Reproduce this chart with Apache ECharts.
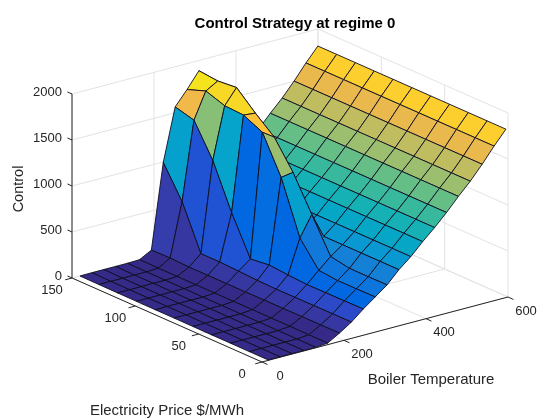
<!DOCTYPE html>
<html><head><meta charset="utf-8">
<style>html,body{margin:0;padding:0;background:#fff}#c{width:560px;height:420px}</style>
<script src="https://cdn.jsdelivr.net/npm/echarts@6/dist/echarts.min.js"></script>
</head><body><div id="c"></div>
<script>
// ---- data ----
const temperature = [15,44,73,102,131,160,189,218,247,276,305,334,363,392,421,450,479,508,537,566,595];
const price = [0,14.85,29.7,44.55,59.4,74.25,89.1,103.95,118.8,133.65,148.5];
const control = [
 [5,5,6,6,7,8,8,9,10,11,13],
 [5,5,6,6,7,8,9,9,10,11,15],
 [5,5,6,6,7,8,9,9,10,11,15],
 [5,5,6,7,7,8,9,10,11,11,15],
 [5,5,6,7,7,8,9,10,11,11,15],
 [17,17,18,18,18,18,18,18,18,18,20],
 [92,90,90,88,88,86,86,86,86,94,90],
 [177,177,176,175,173,178,188,197,197,672,1008],
 [285,283,281,280,293,311,286,698,1176,1524,1578],
 [382,380,379,400,660,1229,1630,1726,1737,1807,1733],
 [479,477,478,516,881,1250,1543,1713,1901,1882,1903],
 [610,610,610,610,610,610,610,610,610,610,610],
 [718,718,718,718,718,718,718,718,718,718,718],
 [847,847,847,847,847,847,847,847,847,847,847],
 [966,966,966,966,966,966,966,966,966,966,966],
 [1095,1095,1095,1095,1095,1095,1095,1095,1095,1095,1095],
 [1236,1236,1236,1236,1236,1236,1236,1236,1236,1236,1236],
 [1367,1367,1367,1367,1367,1367,1367,1367,1367,1367,1367],
 [1517,1517,1517,1517,1517,1517,1517,1517,1517,1517,1517],
 [1680,1680,1680,1680,1680,1680,1680,1680,1680,1680,1680],
 [1830,1830,1830,1830,1830,1830,1830,1830,1830,1830,1830]
];
const xTicks = [0,200,400,600];
const yTicks = [0,50,100,150];
const zTicks = [0,500,1000,1500,2000];
const titleText = 'Control Strategy at regime 0';
const xName = 'Boiler Temperature';
const yName = 'Electricity Price $/MWh';
const zName = 'Control';

// ---- MATLAB "parula" colormap ----
const parula = [[.2081,.1663,.5292],[.2116,.1898,.5777],[.2123,.2138,.6270],[.2081,.2386,.6771],[.1959,.2645,.7279],[.1707,.2919,.7792],[.1253,.3242,.8303],[.0591,.3598,.8683],[.0117,.3875,.8820],[.0060,.4086,.8828],[.0165,.4266,.8786],[.0329,.4430,.8720],[.0498,.4586,.8641],[.0629,.4737,.8554],[.0723,.4887,.8467],[.0779,.5040,.8384],[.0793,.5200,.8312],[.0749,.5375,.8263],[.0641,.5570,.8240],[.0488,.5772,.8228],[.0343,.5966,.8199],[.0265,.6137,.8135],[.0239,.6287,.8038],[.0231,.6418,.7913],[.0228,.6535,.7768],[.0267,.6642,.7607],[.0384,.6743,.7436],[.0590,.6838,.7254],[.0843,.6928,.7062],[.1133,.7015,.6859],[.1453,.7098,.6646],[.1801,.7177,.6424],[.2178,.7250,.6193],[.2586,.7317,.5954],[.3022,.7376,.5712],[.3482,.7424,.5473],[.3953,.7459,.5244],[.4420,.7481,.5033],[.4871,.7491,.4840],[.5300,.7491,.4661],[.5709,.7485,.4494],[.6099,.7473,.4337],[.6473,.7456,.4188],[.6834,.7435,.4044],[.7184,.7411,.3905],[.7525,.7384,.3768],[.7858,.7356,.3633],[.8185,.7327,.3498],[.8507,.7299,.3360],[.8824,.7274,.3217],[.9139,.7258,.3063],[.9450,.7261,.2886],[.9739,.7314,.2666],[.9938,.7455,.2403],[.9990,.7653,.2164],[.9955,.7861,.1967],[.9880,.8066,.1794],[.9789,.8271,.1633],[.9697,.8481,.1475],[.9626,.8705,.1309],[.9589,.8949,.1132],[.9598,.9218,.0948],[.9661,.9514,.0755],[.9763,.9831,.0538]];

// ---- orthographic view of the 3D box ----
const view = {ox:262, oy:362, xx:246/600, xy:-65/600, yx:-190/150, yy:-84/150, zy:-184/2000};
const project = (x,y,z) => [view.ox + x*view.xx + y*view.yx, view.oy + x*view.xy + y*view.yy + z*view.zy];
const xMax = 600, yMax = 150, zMax = 2000;

const flat = control.flat();
const cMin = Math.min(...flat), cMax = Math.max(...flat);
function faceColor(v){
  const k = Math.min(63, Math.floor((v-cMin)/(cMax-cMin)*64));
  const c = parula[k];
  return 'rgb('+c.map(a=>Math.round(a*255)).join(',')+')';
}

// grid lines: [x1,y1,z1,x2,y2,z2]
const gridSegs = [];
zTicks.forEach(z=>{gridSegs.push([xMax,0,z,xMax,yMax,z]);gridSegs.push([0,yMax,z,xMax,yMax,z]);});
xTicks.forEach(x=>{gridSegs.push([x,yMax,0,x,yMax,zMax]);gridSegs.push([x,0,0,x,yMax,0]);});
yTicks.forEach(y=>{gridSegs.push([xMax,y,0,xMax,y,zMax]);gridSegs.push([0,y,0,xMax,y,0]);});

// axis lines
const axisSegs = [[0,0,0,xMax,0,0],[0,0,0,0,yMax,0],[0,yMax,0,0,yMax,zMax]];

// faces painted from the far corner to the near one
const faces = [];
for(let i=temperature.length-2;i>=0;i--) for(let j=price.length-2;j>=0;j--) faces.push([i,j]);

// tick marks and labels
const xDir=[.91,.41], yDir=[-.966,.26], zDir=[-.91,-.41];
const tickItems = [];
xTicks.forEach(v=>tickItems.push({p:project(v,0,0),d:xDir,len:6,t:String(v),off:[18,14],align:'center'}));
yTicks.forEach(v=>tickItems.push({p:project(0,v,0),d:yDir,len:7,t:String(v),off:[-20,12],align:'center'}));
zTicks.forEach(v=>tickItems.push({p:project(0,yMax,v),d:zDir,len:5,t:String(v),off:[-10,-2],align:'right'}));

const FONT = '"Liberation Sans", Arial, sans-serif';
const toPix = (api,p)=>api.coord(p);

const option = {
  animation:false,
  backgroundColor:'#fff',
  title:{text:titleText,left:290,top:11,textAlign:'center',textStyle:{fontFamily:FONT,fontSize:15,fontWeight:'bold',color:'#000'}},
  grid:{left:0,right:0,top:0,bottom:0},
  xAxis:{type:'value',min:0,max:560,show:false},
  yAxis:{type:'value',min:0,max:420,inverse:true,show:false},
  series:[
   {type:'custom',coordinateSystem:'cartesian2d',silent:true,clip:false,z:1,
    data:gridSegs.map((s,k)=>[k]),
    renderItem(params,api){
      const s=gridSegs[api.value(0)];
      const a=toPix(api,project(s[0],s[1],s[2])),b=toPix(api,project(s[3],s[4],s[5]));
      return {type:'line',shape:{x1:a[0],y1:a[1],x2:b[0],y2:b[1]},style:{stroke:'#e3e3e3',lineWidth:1}};
    }},
   {type:'custom',coordinateSystem:'cartesian2d',silent:true,clip:false,z:2,
    data:axisSegs.map((s,k)=>[k]),
    renderItem(params,api){
      const s=axisSegs[api.value(0)];
      const a=toPix(api,project(s[0],s[1],s[2])),b=toPix(api,project(s[3],s[4],s[5]));
      return {type:'line',shape:{x1:a[0],y1:a[1],x2:b[0],y2:b[1]},style:{stroke:'#262626',lineWidth:1}};
    }},
   {type:'custom',coordinateSystem:'cartesian2d',silent:true,clip:false,z:3,
    data:faces,
    renderItem(params,api){
      const i=api.value(0),j=api.value(1);
      const corner=(a,b)=>toPix(api,project(temperature[a],price[b],control[a][b]));
      return {type:'polygon',
        shape:{points:[corner(i,j),corner(i+1,j),corner(i+1,j+1),corner(i,j+1)]},
        style:{fill:faceColor(control[i][j]),stroke:'#0d0d20',lineWidth:.9,lineJoin:'round'}};
    }},
   {type:'custom',coordinateSystem:'cartesian2d',silent:true,clip:false,z:4,
    data:tickItems.map((s,k)=>[k]),
    renderItem(params,api){
      const s=tickItems[api.value(0)];
      const a=toPix(api,s.p);
      return {type:'group',children:[
        {type:'line',shape:{x1:a[0],y1:a[1],x2:a[0]+s.d[0]*s.len,y2:a[1]+s.d[1]*s.len},style:{stroke:'#262626',lineWidth:1}},
        {type:'text',x:a[0]+s.off[0],y:a[1]+s.off[1],style:{text:s.t,textAlign:s.align,textVerticalAlign:'middle',fontFamily:FONT,fontSize:13,fill:'#262626'}}
      ]};
    }}
  ],
  graphic:[
    {type:'text',x:431,y:380,silent:true,style:{text:xName,textAlign:'center',textVerticalAlign:'middle',fontFamily:FONT,fontSize:15,fill:'#262626'}},
    {type:'text',x:167,y:411,silent:true,style:{text:yName,textAlign:'center',textVerticalAlign:'middle',fontFamily:FONT,fontSize:15,fill:'#262626'}},
    {type:'text',x:19,y:189,rotation:Math.PI/2,silent:true,style:{text:zName,textAlign:'center',textVerticalAlign:'middle',fontFamily:FONT,fontSize:14.5,fill:'#262626'}}
  ]
};
echarts.init(document.getElementById('c'),null,{renderer:'canvas'}).setOption(option);
</script></body></html>
